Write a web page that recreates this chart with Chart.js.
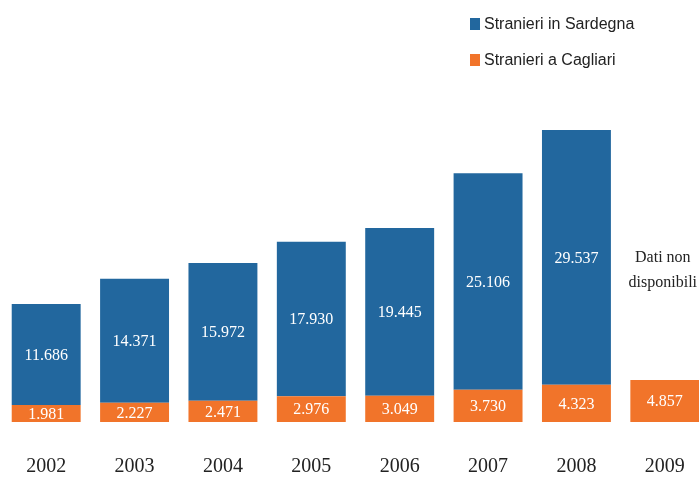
<!DOCTYPE html>
<html>
<head>
<meta charset="utf-8">
<script src="https://cdn.jsdelivr.net/npm/chart.js@4/dist/chart.umd.min.js"></script>
<style>
  html, body { margin: 0; padding: 0; background: #fff; overflow: hidden; }
  #wrap { width: 711px; height: 477px; }
</style>
</head>
<body>
<div id="wrap"><canvas id="stranieriChart" width="711" height="477"></canvas></div>
<script>
var years = ['2002', '2003', '2004', '2005', '2006', '2007', '2008', '2009'];
var cagliari = [1981, 2227, 2471, 2976, 3049, 3730, 4323, 4857];
var sardegna = [11686, 14371, 15972, 17930, 19445, 25106, 29537, null];
var missingNote = ['Dati non', 'disponibili'];

var BLUE = '#22679E';
var ORANGE = '#F1742A';

function formatIt(v) {
    return String(v).replace(/\B(?=(\d{3})+(?!\d))/g, '.');
}

var valueLabels = {
    id: 'valueLabels',
    afterDatasetsDraw: function(chart) {
        var ctx = chart.ctx;
        ctx.save();
        ctx.font = '16px "Liberation Serif", "DejaVu Serif", serif';
        ctx.fillStyle = '#ffffff';
        ctx.textAlign = 'center';
        ctx.textBaseline = 'middle';
        chart.data.datasets.forEach(function(ds, i) {
            var meta = chart.getDatasetMeta(i);
            meta.data.forEach(function(bar, j) {
                if (ds.data[j] == null) return;
                ctx.fillText(formatIt(ds.data[j]), bar.x, (bar.y + bar.base) / 2 + 1);
            });
        });
        // note for missing Sardegna value
        var meta = chart.getDatasetMeta(1);
        var y = chart.scales.y;
        sardegna.forEach(function(v, j) {
            if (v != null) return;
            var x = meta.data[j].x - 2;
            ctx.fillStyle = '#222';
            ctx.fillText(missingNote[0], x, y.getPixelForValue(19000));
            ctx.fillText(missingNote[1], x, y.getPixelForValue(16100));
        });
        ctx.restore();
    }
};

var sideLegend = {
    id: 'sideLegend',
    afterDraw: function(chart) {
        var ctx = chart.ctx;
        ctx.save();
        ctx.font = '16px "Liberation Sans", Arial, sans-serif';
        ctx.textBaseline = 'middle';
        ctx.textAlign = 'left';
        var items = chart.data.datasets.slice().reverse();
        items.forEach(function(ds, i) {
            var cy = 24 + i * 36;
            ctx.fillStyle = ds.backgroundColor;
            ctx.fillRect(470, cy - 6, 10, 12);
            ctx.fillStyle = '#222';
            ctx.fillText(ds.label, 484, cy + 1);
        });
        ctx.restore();
    }
};

var ctx = document.getElementById('stranieriChart').getContext('2d');
var chart = new Chart(ctx, {
    type: 'bar',
    data: {
        labels: years,
        datasets: [{
            label: 'Stranieri a Cagliari',
            data: cagliari,
            backgroundColor: ORANGE,
            borderWidth: 0
        }, {
            label: 'Stranieri in Sardegna',
            data: sardegna,
            backgroundColor: BLUE,
            borderWidth: 0
        }]
    },
    options: {
        responsive: false,
        animation: false,
        layout: {
            padding: { top: 77, left: 2, right: 2, bottom: 0 }
        },
        datasets: {
            bar: {
                categoryPercentage: 1,
                barPercentage: 0.78
            }
        },
        plugins: {
            legend: { display: false },
            tooltip: { enabled: false },
            title: { display: false }
        },
        scales: {
            x: {
                stacked: true,
                grid: { display: false, drawTicks: false },
                border: { display: false },
                ticks: {
                    color: '#222',
                    padding: 33,
                    font: { family: '"Liberation Serif", "DejaVu Serif", serif', size: 20 }
                },
                afterFit: function(scale) {
                    scale.height = 55;
                    scale.paddingLeft = 0;
                    scale.paddingRight = 0;
                }
            },
            y: {
                stacked: true,
                display: false,
                min: 0,
                max: 40000
            }
        }
    },
    plugins: [valueLabels, sideLegend]
});
</script>
</body>
</html>
